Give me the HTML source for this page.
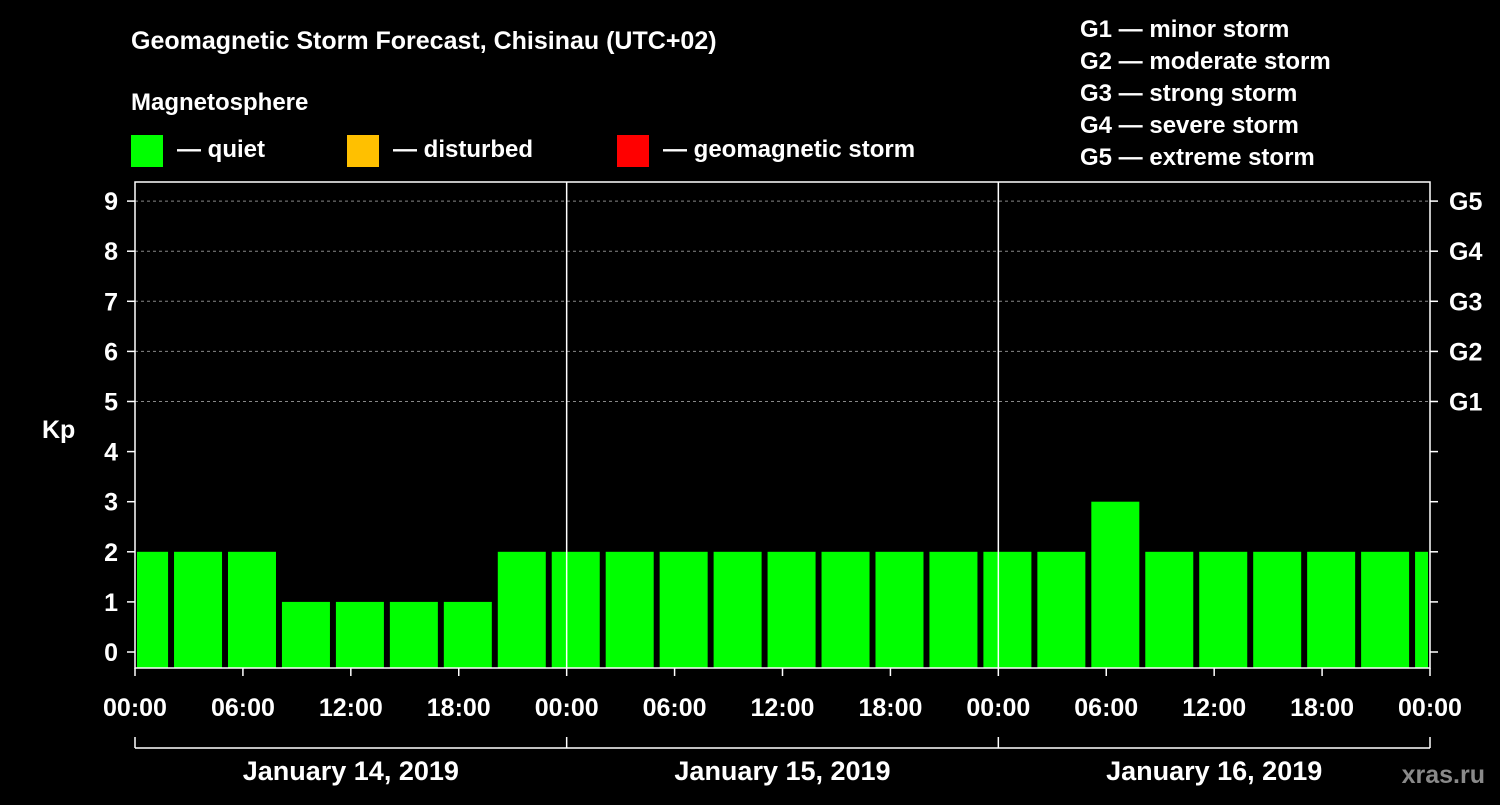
<!DOCTYPE html>
<html><head><meta charset="utf-8"><style>
body{margin:0;background:#000;width:1500px;height:800px;overflow:hidden}
svg text{font-family:"Liberation Sans",Arial,sans-serif;font-weight:bold;fill:#fff}
</style></head><body>
<svg id="c" width="1500" height="800" xmlns="http://www.w3.org/2000/svg">
<text x="131" y="49" font-size="25">Geomagnetic Storm Forecast, Chisinau (UTC+02)</text>
<text x="131" y="110" font-size="24">Magnetosphere</text>
<g>
<rect x="131" y="135" width="32" height="32" fill="#00ff00"/>
<text x="177" y="157" font-size="24">— quiet</text>
<rect x="347" y="135" width="32" height="32" fill="#ffc000"/>
<text x="393" y="157" font-size="24">— disturbed</text>
<rect x="617" y="135" width="32" height="32" fill="#ff0000"/>
<text x="663" y="157" font-size="24">— geomagnetic storm</text>
</g>
<g font-size="24">
<text x="1080" y="37">G1 — minor storm</text>
<text x="1080" y="69">G2 — moderate storm</text>
<text x="1080" y="101">G3 — strong storm</text>
<text x="1080" y="133">G4 — severe storm</text>
<text x="1080" y="165">G5 — extreme storm</text>
</g>
<text x="42" y="438" font-size="25">Kp</text>
<text x="1485" y="783" font-size="25" fill="#888" style="fill:#8a8a8a" text-anchor="end">xras.ru</text>
<g id="grid"></g><g id="bars"></g><g id="axes"></g>
</svg>
<script>
const kpValues=[2,2,2,1,1,1,1,2, 2,2,2,2,2,2,2,2, 2,2,3,2,2,2,2,2, 2];
const yTicks=[0,1,2,3,4,5,6,7,8,9];
const gLabels=["G1","G2","G3","G4","G5"];
const xTickLabels=["00:00","06:00","12:00","18:00","00:00","06:00","12:00","18:00","00:00","06:00","12:00","18:00","00:00"];
const dayLabels=["January 14, 2019","January 15, 2019","January 16, 2019"];
const L=135,R=1430,T=182,B=668;
const y=v=>652-50.1*v;
const xh=h=>L+h*(R-L)/72;
const NS="http://www.w3.org/2000/svg";
function mk(p,t,a){const e=document.createElementNS(NS,t);for(const k in a)e.setAttribute(k,a[k]);p.appendChild(e);return e;}
const grid=document.getElementById('grid'),bars=document.getElementById('bars'),axes=document.getElementById('axes');
yTicks.forEach(v=>{if(v>=5){const g=mk(grid,'line',{x1:L,x2:R,y1:y(v),y2:y(v),stroke:'#888','stroke-dasharray':'3,3','stroke-width':1});

}
const t=mk(axes,'text',{x:118,y:y(v)+9,'font-size':25,'text-anchor':'end'});t.textContent=v;


mk(axes,'line',{x1:L-8,x2:L,y1:y(v),y2:y(v),stroke:'#fff','stroke-width':1.5});
mk(axes,'line',{x1:R,x2:R+8,y1:y(v),y2:y(v),stroke:'#fff','stroke-width':1.5});});
gLabels.forEach((g,i)=>{const t=mk(axes,'text',{x:1449,y:y(5+i)+9,'font-size':25});t.textContent=g;

});
kpValues.forEach((v,k)=>{let x0=xh(3*k-0.83),x1=x0+48;x0=Math.max(x0,L+2);x1=Math.min(x1,R-2);
const c=v>=5?'#ff0000':v>=4?'#ffc000':'#00ff00';
const r=mk(bars,'rect',{x:x0,y:y(v),width:x1-x0,height:B-y(v),fill:c});

});
mk(axes,'rect',{x:L,y:T,width:R-L,height:B-T,fill:'none',stroke:'#fff','stroke-width':1.5});
[1,2].forEach(d=>mk(axes,'line',{x1:xh(24*d),x2:xh(24*d),y1:T,y2:B,stroke:'#fff','stroke-width':1.5}));
xTickLabels.forEach((s,i)=>{const x=xh(6*i);mk(axes,'line',{x1:x,x2:x,y1:B,y2:B+8,stroke:'#fff','stroke-width':1.5});
const t=mk(axes,'text',{x:x,y:716,'font-size':25,'text-anchor':'middle'});t.textContent=s;

});
mk(axes,'line',{x1:L,x2:R,y1:748,y2:748,stroke:'#fff','stroke-width':1.5});
[0,1,2,3].forEach(d=>mk(axes,'line',{x1:xh(24*d),x2:xh(24*d),y1:737,y2:748,stroke:'#fff','stroke-width':1.5}));
dayLabels.forEach((s,i)=>{const t=mk(axes,'text',{x:xh(24*i+12),y:780,'font-size':27,'text-anchor':'middle'});t.textContent=s;

});
</script>
</body></html>
